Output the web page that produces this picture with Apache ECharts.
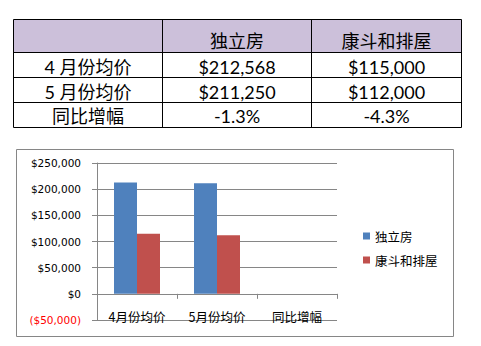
<!DOCTYPE html>
<html>
<head>
<meta charset="utf-8">
<script src="https://cdn.jsdelivr.net/npm/echarts@6/dist/echarts.min.js"></script>
<style>
html,body{margin:0;padding:0;background:#fff;}
#main{width:481px;height:346px;}
</style>
</head>
<body>
<div id="main"></div>
<script>
// ---- data ----
var categories = ['4月份均价', '5月份均价', '同比增幅'];
var rowLabels = ['4 月份均价', '5 月份均价', '同比增幅'];
var seriesNames = ['独立房', '康斗和排屋'];
var detached = [212568, 211250, -0.013];
var townhouse = [115000, 112000, -0.043];
var yMin = -50000, yMax = 250000, yStep = 50000;

// ---- helpers ----
function money(v) {
  var s = '$' + Math.abs(Math.round(v)).toLocaleString('en-US');
  return v < 0 ? '(' + s + ')' : s;
}
function cellText(v, i) {
  return i < 2 ? money(v) : (v * 100).toFixed(1) + '%';
}

var TFONT = "Lato, 'Noto Sans CJK SC', sans-serif";
var colX = [13.5, 162.5, 311.5, 461.5];
var rowY = [19.5, 52.5, 77.5, 102.5, 127.5];
var textY = [41, 66.5, 91.5, 116];

var graphics = [];
// header fill
graphics.push({type: 'rect', shape: {x: colX[0], y: rowY[0], width: colX[3] - colX[0], height: rowY[1] - rowY[0]},
  style: {fill: '#CCC0DA'}, silent: true});
rowY.forEach(function (y) {
  graphics.push({type: 'line', shape: {x1: colX[0], y1: y, x2: colX[3], y2: y}, style: {stroke: '#000', lineWidth: 1}, silent: true});
});
colX.forEach(function (x) {
  graphics.push({type: 'line', shape: {x1: x, y1: rowY[0], x2: x, y2: rowY[4]}, style: {stroke: '#000', lineWidth: 1}, silent: true});
});
function cell(txt, col, row) {
  graphics.push({type: 'text', silent: true, style: {
    text: txt, x: (colX[col] + colX[col + 1]) / 2, y: textY[row],
    align: 'center', verticalAlign: 'middle', fontSize: 18, fontFamily: TFONT, fill: '#000'}});
}
cell(seriesNames[0], 1, 0);
cell(seriesNames[1], 2, 0);
for (var i = 0; i < rowLabels.length; i++) {
  cell(rowLabels[i], 0, i + 1);
  cell(cellText(detached[i], i), 1, i + 1);
  cell(cellText(townhouse[i], i), 2, i + 1);
}
// chart border
graphics.push({type: 'rect', silent: true, shape: {x: 16.5, y: 149.5, width: 437, height: 187},
  style: {fill: 'none', stroke: '#868686', lineWidth: 1}});

var GRAY = '#868686';
var chart = echarts.init(document.getElementById('main'), null, {renderer: 'svg'});
chart.setOption({
  animation: false,
  backgroundColor: '#fff',
  graphic: graphics,
  grid: {left: 97, top: 163, width: 240, height: 157, containLabel: false},
  legend: {
    orient: 'vertical', left: 358, top: 224,
    itemWidth: 7, itemHeight: 7, itemGap: 10,
    icon: 'rect',
    data: seriesNames,
    textStyle: {fontSize: 12.5, fontFamily: "'Noto Sans CJK SC', sans-serif", color: '#000', lineHeight: 14}
  },
  xAxis: {
    type: 'category',
    data: categories,
    axisLine: {onZero: true, lineStyle: {color: GRAY, width: 1}},
    axisTick: {show: true, length: 5, alignWithLabel: false, lineStyle: {color: GRAY}},
    axisLabel: {margin: -10, fontSize: 12.5, fontFamily: "'Noto Sans CJK SC', sans-serif", color: '#000'},
    splitLine: {show: false}
  },
  yAxis: {
    type: 'value',
    min: yMin, max: yMax, interval: yStep,
    axisLine: {show: true, lineStyle: {color: GRAY, width: 1}},
    axisTick: {show: true, length: 5, lineStyle: {color: GRAY}},
    splitLine: {show: true, lineStyle: {color: GRAY, width: 1}},
    axisLabel: {
      margin: 16, fontSize: 10.5, fontFamily: "'DejaVu Sans', sans-serif", color: '#000',
      formatter: function (v) { return v < 0 ? '{neg|' + money(v) + '}' : money(v); },
      rich: {neg: {color: '#FF0000', fontSize: 10.5, fontFamily: "'DejaVu Sans', sans-serif"}}
    }
  },
  series: [
    {name: seriesNames[0], type: 'bar', data: detached, barWidth: 23, barGap: '0%',
     itemStyle: {color: '#4F81BD'}},
    {name: seriesNames[1], type: 'bar', data: townhouse, barWidth: 23, barGap: '0%',
     itemStyle: {color: '#C0504D'}}
  ]
});
</script>
</body>
</html>
